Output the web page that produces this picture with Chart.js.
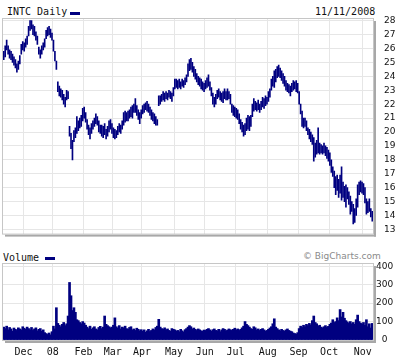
<!DOCTYPE html>
<html>
<head>
<meta charset="utf-8">
<script src="https://cdn.jsdelivr.net/npm/chart.js@4/dist/chart.umd.min.js"></script>
<style>
  body { margin: 0; background: #fff; }
  #wrap { position: relative; width: 405px; height: 360px; font-family: "DejaVu Sans Mono", monospace; font-size: 10px; color: #111; }
  .lbl { position: absolute; white-space: nowrap; line-height: 10px; }
  .sw { position: absolute; background: #000080; }
  canvas { position: absolute; left: 0; }
</style>
</head>
<body>
<div id="wrap">
  <div class="lbl" style="left:7px;top:7px">INTC Daily</div>
  <div class="sw" style="left:70px;top:12px;width:10px;height:3px"></div>
  <div class="lbl" style="left:315px;top:7px">11/11/2008</div>
  <div class="lbl" style="left:3px;top:253px">Volume</div>
  <div class="sw" style="left:45px;top:257px;width:10px;height:3px"></div>
  <div class="lbl" style="left:303px;top:251px;font-family:'DejaVu Sans',sans-serif;font-size:9px;color:#8a8a8a">© BigCharts.com</div>
  <canvas id="price" width="405" height="250" style="top:0"></canvas>
  <canvas id="vol" width="405" height="110" style="top:250px"></canvas>
</div>
<script>
// INTC daily, 11/12/2007 - 11/11/2008, one entry per trading day
let priceLow = [
  25.2,25.4,25.9,25.6,25.3,25.2,25.0,24.8,24.6,24.3,
  24.5,24.9,25.6,25.9,25.8,26.1,26.3,26.9,27.3,27.4,
  27.0,26.9,26.6,26.3,25.6,25.3,25.6,25.9,26.1,26.7,
  26.9,27.0,26.8,26.6,25.8,25.1,24.5,22.9,22.6,22.5,
  22.3,22.0,21.8,22.3,22.4,19.7,18.8,18.0,19.3,19.6,
  19.9,20.1,20.3,20.4,20.8,21.0,20.7,20.2,19.8,19.5,
  19.9,20.2,20.4,20.6,20.5,20.0,19.9,19.7,19.6,19.8,
  19.5,19.7,20.0,20.2,19.9,19.6,19.5,19.6,19.8,20.0,
  19.9,20.2,20.5,20.7,20.8,20.8,21.0,21.1,21.0,21.4,
  21.4,21.2,20.9,20.6,21.0,21.3,21.4,21.6,21.5,21.4,
  21.2,20.9,20.8,20.6,20.5,20.5,21.9,22.0,22.2,22.3,
  22.2,22.4,22.3,22.5,22.4,22.2,22.6,23.1,23.2,23.1,
  23.2,23.1,23.3,23.2,23.4,23.6,24.0,24.4,24.5,24.3,
  24.0,23.8,23.6,23.4,23.3,23.1,23.0,22.9,23.1,23.2,
  23.3,23.0,22.6,22.0,21.8,22.0,22.4,22.5,22.3,22.2,
  22.1,22.4,22.3,22.3,22.4,22.0,21.4,21.2,21.1,21.0,
  20.9,20.6,20.2,20.0,19.7,19.8,20.1,20.2,20.1,20.4,
  21.1,21.5,21.6,21.5,21.6,21.4,21.6,21.8,21.7,21.9,
  22.0,22.2,22.5,23.0,23.3,23.2,23.6,23.9,24.0,23.9,
  23.7,23.5,23.3,23.0,22.9,22.8,22.6,22.9,23.0,23.1,
  22.9,22.8,22.0,21.3,20.4,20.3,20.4,20.1,19.8,19.5,
  19.3,19.1,17.9,18.2,18.4,18.5,18.4,18.5,18.4,18.5,
  18.3,18.1,17.9,17.6,17.1,16.8,16.0,15.5,15.8,15.3,
  15.6,15.1,15.3,15.0,14.6,15.2,14.8,14.1,14.3,13.4,
  13.5,14.0,14.6,15.5,15.7,15.6,15.5,14.9,14.1,14.2,
  14.3,13.9,13.6
];
let priceHigh = [
  25.8,26.2,26.6,26.2,25.9,25.8,25.6,25.4,25.2,24.9,
  25.1,25.5,26.3,26.5,26.4,26.7,26.9,27.6,28.0,28.0,
  27.7,27.6,27.2,26.9,26.1,25.9,26.2,26.4,26.7,27.3,
  27.5,27.6,27.4,27.1,26.6,25.8,25.1,23.6,23.3,23.1,
  23.0,22.7,22.5,23.0,22.9,20.4,19.9,19.4,20.1,20.3,
  21.1,20.8,21.0,21.2,21.7,21.8,21.4,20.9,20.5,20.3,
  20.6,20.8,21.0,21.3,21.1,20.8,20.5,20.5,20.4,20.6,
  20.2,20.4,20.8,20.9,20.6,20.3,20.2,20.1,20.4,20.6,
  20.5,20.8,21.4,21.5,21.4,21.5,21.6,21.8,21.9,22.0,
  22.4,21.9,21.6,21.4,21.6,21.9,22.0,22.1,22.2,22.0,
  21.8,21.6,21.4,21.3,21.1,20.9,22.6,22.6,22.7,22.9,
  22.8,22.9,22.8,23.0,22.9,22.8,23.2,23.8,23.8,23.7,
  23.8,23.6,23.8,23.7,23.9,24.1,24.9,25.2,25.3,25.0,
  24.7,24.5,24.2,24.0,23.9,23.8,23.6,23.5,23.7,23.9,
  24.1,23.6,23.2,22.8,22.5,22.7,23.0,23.1,22.9,22.8,
  22.9,23.1,22.9,23.1,22.9,22.7,22.0,21.9,21.8,21.7,
  21.6,21.3,20.9,20.7,20.5,20.6,21.0,21.2,21.1,21.2,
  22.0,22.4,22.2,22.1,22.3,22.0,22.2,22.5,22.4,22.6,
  22.5,22.9,23.1,23.8,24.0,24.4,24.5,24.7,24.8,24.6,
  24.4,24.2,24.0,23.7,23.5,23.4,23.3,23.5,23.7,23.6,
  23.7,23.5,22.9,22.0,21.5,21.0,21.0,20.8,20.3,20.2,
  20.0,19.8,19.6,19.2,19.4,20.3,19.2,19.1,19.0,19.2,
  19.0,18.9,18.7,18.5,18.0,17.5,17.2,16.8,16.9,16.6,
  16.9,17.5,16.4,16.1,16.2,16.0,15.7,15.4,15.0,14.8,
  14.5,15.2,16.2,16.4,16.5,16.4,16.3,16.0,15.2,15.0,
  15.2,14.5,14.3
];
// millions of shares
let volume = [
  70,62,75,55,68,60,48,65,58,52,66,60,55,72,                                   // Nov
  64,58,70,62,55,68,52,60,66,50,58,62,48,55,40,35,30,38,28,45,                 // Dec
  75,60,175,90,80,72,85,95,78,88,130,312,240,160,175,150,110,105,95,88,100,    // Jan
  92,80,70,62,75,58,66,72,60,55,68,74,62,70,130,85,78,72,66,70,                // Feb
  80,120,72,65,78,60,70,66,75,62,58,68,72,55,60,52,64,58,50,56,                // Mar
  48,55,42,50,58,46,52,60,55,68,75,112,70,62,58,66,55,60,52,48,62,58,          // Apr
  55,48,52,45,58,50,44,56,62,70,78,72,60,65,58,52,60,55,50,48,54,              // May
  52,58,62,55,48,56,60,52,50,58,45,55,62,58,50,54,60,56,52,58,64,              // Jun
  55,60,52,58,66,75,100,85,78,70,62,58,72,66,55,60,52,58,62,55,48,52,          // Jul
  58,65,72,88,115,70,62,55,50,58,52,48,55,60,52,48,45,38,35,32,40,             // Aug
  62,75,68,80,72,85,78,90,82,105,130,95,88,75,80,70,66,72,78,68,74,            // Sep
  85,92,110,95,100,120,105,165,125,150,118,105,98,90,100,88,95,85,110,135,100,92,86, // Oct
  95,80,110,72,88,65,90                                                        // Nov
];
let monthStarts = [14, 34, 55, 75, 95, 117, 138, 159, 181, 202, 223, 246];
let monthLabels = ["Dec", "08", "Feb", "Mar", "Apr", "May", "Jun", "Jul", "Aug", "Sep", "Oct", "Nov"];
let priceTicks = [13, 14, 15, 16, 17, 18, 19, 20, 21, 22, 23, 24, 25, 26, 27, 28];
let volumeTicks = [0, 100, 200, 300, 400];

const navy = "#000080";
const gridColor = "#e6e6e6";

// plot frame with grey drop shadow on right and bottom
const frame = {
    id: "frame",
    afterDatasetsDraw(c) {
        let a = c.chartArea, ctx = c.ctx;
        ctx.save();
        ctx.fillStyle = "#a8a8a8";
        ctx.fillRect(a.right + 1, a.top + 2, 2, a.bottom - a.top + 1);
        ctx.fillRect(a.left + 2, a.bottom + 1, a.right - a.left + 1, 2);
        ctx.strokeStyle = "#c6c6c6";
        ctx.lineWidth = 1;
        ctx.strokeRect(a.left - 0.5, a.top - 0.5, a.right - a.left + 1, a.bottom - a.top + 1);
        ctx.restore();
    }
};

function monthAxis(showLabels) {
    return {
        type: "linear",
        offset: false,
        min: -0.5,
        max: 252.5,
        afterBuildTicks: s => { s.ticks = monthStarts.map(m => ({ value: m - 0.5 })); },
        afterFit: s => { s.height = showLabels ? 20 : 0; },
        border: { display: false },
        grid: { color: gridColor, drawTicks: false, offset: false },
        ticks: {
            display: showLabels,
            autoSkip: false,
            maxRotation: 0,
            padding: 6,
            color: "#111",
            font: { family: "DejaVu Sans Mono", size: 10 },
            callback: (v, i) => monthLabels[i]
        }
    };
}

let bars = priceLow.map((lo, i) => ({ x: i, y: [lo, priceHigh[i]] }));
let vols = volume.map((v, i) => ({ x: i, y: v }));

new Chart(document.getElementById("price"), {
    type: "bar",
    data: {
        datasets: [{
            data: bars,
            backgroundColor: navy,
            barThickness: 1,
            grouped: false
        }]
    },
    options: {
        responsive: false,
        animation: false,
        devicePixelRatio: 1,
        layout: { padding: { top: 19, left: 3, right: 0, bottom: 14 } },
        plugins: { legend: { display: false }, tooltip: { enabled: false } },
        scales: {
            x: monthAxis(false),
            y: {
                position: "right",
                min: 12.7,
                max: 28.12,
                afterBuildTicks: s => { s.ticks = priceTicks.map(v => ({ value: v })); },
                afterFit: s => { s.width = 32; },
                border: { display: false },
                grid: { color: gridColor, drawTicks: false },
                ticks: {
                    padding: 11,
                    color: "#111",
                    font: { family: "DejaVu Sans", size: 9 }
                }
            }
        }
    },
    plugins: [frame]
});

new Chart(document.getElementById("vol"), {
    type: "bar",
    data: {
        datasets: [{
            data: vols,
            backgroundColor: navy,
            barThickness: 2,
            grouped: false
        }]
    },
    options: {
        responsive: false,
        animation: false,
        devicePixelRatio: 1,
        layout: { padding: { top: 14, left: 3, right: 0, bottom: 0 } },
        plugins: { legend: { display: false }, tooltip: { enabled: false } },
        scales: {
            x: monthAxis(true),
            y: {
                position: "right",
                min: 0,
                max: 412,
                afterBuildTicks: s => { s.ticks = volumeTicks.map(v => ({ value: v })); },
                afterFit: s => { s.width = 32; },
                border: { display: false },
                grid: { color: gridColor, drawTicks: false },
                ticks: {
                    padding: 3,
                    crossAlign: "center",
                    color: "#111",
                    font: { family: "DejaVu Sans", size: 9 }
                }
            }
        }
    },
    plugins: [frame]
});
</script>
</body>
</html>
